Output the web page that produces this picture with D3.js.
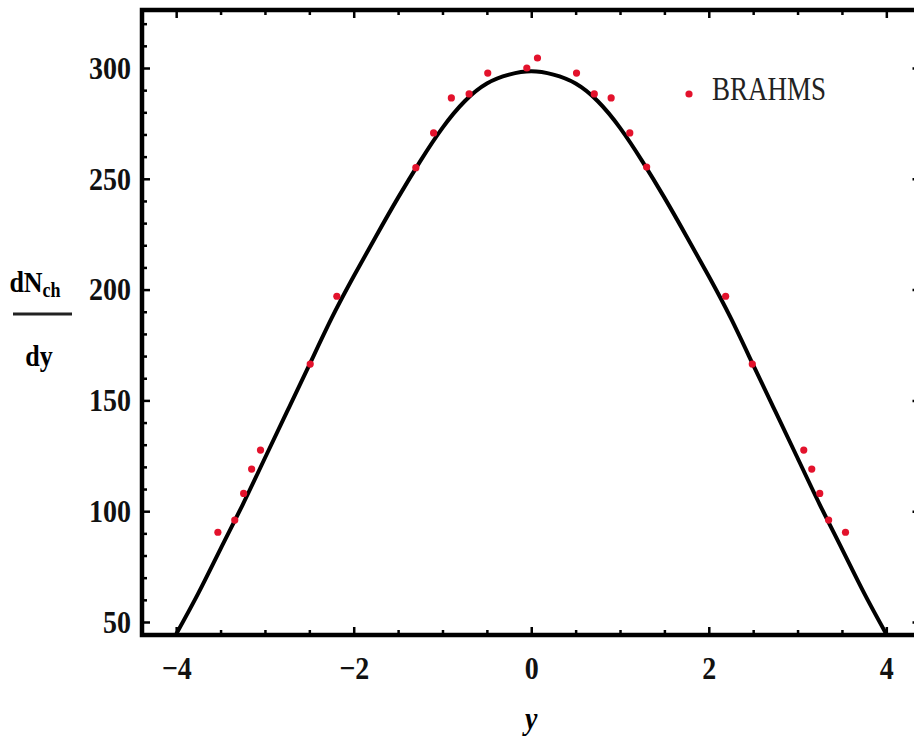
<!DOCTYPE html>
<html lang="en">
<head>
    <meta charset="UTF-8">
    <title>dNch/dy vs y - BRAHMS</title>
    <script src="https://d3js.org/d3.v7.min.js"></script>
    <style>
        body { margin: 0; background: #fff; }
        svg { display: block; font-family: "Liberation Serif", "Times New Roman", serif; }
        .tick text { font-family: "Liberation Serif", "Times New Roman", serif; font-weight: bold; font-size: 28px; fill: #111; }
    </style>
</head>
<body>
<svg width="914" height="743"></svg>
<script>
    // model curve (y, dNch/dy)
    const curveY = [-4.0, -3.75, -3.5, -3.25, -3.0, -2.75, -2.5, -2.25, -2.0, -1.75, -1.5, -1.25, -1.0, -0.75, -0.5, -0.25, 0,
                    0.25, 0.5, 0.75, 1.0, 1.25, 1.5, 1.75, 2.0, 2.25, 2.5, 2.75, 3.0, 3.25, 3.5, 3.75, 4.0];
    const curveN = [44.5, 63, 83, 103, 124, 145, 166, 187, 206, 224, 241.5, 258, 273, 285, 293, 297, 298.5,
                    297, 293, 285, 273, 258, 241.5, 224, 206, 187, 166, 145, 124, 103, 83, 63, 44.5];

    // BRAHMS points
    const brahmsY = [-3.53, -3.34, -3.24, -3.15, -3.05, -2.49, -2.19, -1.30, -1.10, -0.90, -0.70, -0.49, -0.05, 0.07,
                     0.51, 0.71, 0.90, 1.11, 1.30, 2.19, 2.49, 3.07, 3.16, 3.25, 3.35, 3.54];
    const brahmsN = [90.5, 96, 108, 119, 127.6, 166.4, 197, 255, 270.7, 286.5, 288.3, 297.7, 300, 304.5,
                     297.7, 288.3, 286.5, 270.7, 255.3, 197, 166.4, 127.6, 119, 108, 96, 90.5];

    const xTicks = [-4, -2, 0, 2, 4];
    const xMinor = d3.range(-4, 4.01, 0.5).filter(v => v % 2 !== 0);
    const yTicks = [50, 100, 150, 200, 250, 300];
    const yMinor = d3.range(50, 321, 10).filter(v => v % 50 !== 0);

    const svg = d3.select("svg");
    const pLeft = 142, pRight = 920.5, pTop = 10, pBottom = 635;
    const serif = "'Liberation Serif', 'Times New Roman', serif";

    const x = d3.scaleLinear().domain([-4.385, 4.385]).range([pLeft, pRight]);
    const y = d3.scaleLinear().domain([44.13, 326.17]).range([pBottom, pTop]);

    svg.append("clipPath").attr("id", "plot")
        .append("rect").attr("x", pLeft).attr("y", pTop)
        .attr("width", pRight - pLeft).attr("height", pBottom - pTop);

    // curve
    const curve = curveY.map((v, i) => [v, curveN[i]]);
    svg.append("path")
        .datum(curve)
        .attr("clip-path", "url(#plot)")
        .attr("fill", "none")
        .attr("stroke", "#000")
        .attr("stroke-width", 4)
        .attr("d", d3.line().x(d => x(d[0])).y(d => y(d[1])).curve(d3.curveNatural));

    // data points
    svg.selectAll(".pt")
        .data(brahmsY.map((v, i) => [v, brahmsN[i]]))
        .enter().append("circle")
        .attr("class", "pt")
        .attr("cx", d => x(d[0]))
        .attr("cy", d => y(d[1]))
        .attr("r", 3.6)
        .attr("fill", "#e3122c");

    // axes: major + minor ticks pointing inward
    function styleAxis(g) {
        g.attr("font-family", serif).attr("font-size", 28).attr("font-weight", "bold");
        g.select(".domain").remove();
        g.selectAll("line").attr("stroke", "#000").attr("stroke-width", 2.5);
    }

    svg.append("g").attr("transform", `translate(0,${pBottom})`)
        .call(d3.axisBottom(x).tickValues(xTicks).tickSize(-8).tickPadding(22)
            .tickFormat(d => d < 0 ? "\u2212" + Math.abs(d) : d))
        .call(styleAxis)
        .selectAll("text").attr("dy", "0.32em").attr("y", 29).attr("transform", "scale(1,1.15)");
    svg.append("g").attr("transform", `translate(0,${pBottom})`)
        .call(d3.axisBottom(x).tickValues(xMinor).tickSize(-5).tickFormat(""))
        .call(styleAxis);

    svg.append("g").attr("transform", `translate(${pLeft},0)`)
        .call(d3.axisLeft(y).tickValues(yTicks).tickSize(-8).tickPadding(11))
        .call(styleAxis)
        .selectAll("text").attr("transform", "scale(1,1.15)");
    svg.append("g").attr("transform", `translate(${pLeft},0)`)
        .call(d3.axisLeft(y).tickValues(yMinor).tickSize(-5).tickFormat(""))
        .call(styleAxis);

    // mirrored ticks on top and right
    svg.append("g").attr("transform", `translate(0,${pTop})`)
        .call(d3.axisTop(x).tickValues(xTicks).tickSize(-8).tickFormat(""))
        .call(styleAxis);
    svg.append("g").attr("transform", `translate(0,${pTop})`)
        .call(d3.axisTop(x).tickValues(xMinor).tickSize(-5).tickFormat(""))
        .call(styleAxis);
    svg.append("g").attr("transform", `translate(${pRight},0)`)
        .call(d3.axisRight(y).tickValues(yTicks).tickSize(-8).tickFormat(""))
        .call(styleAxis);
    svg.append("g").attr("transform", `translate(${pRight},0)`)
        .call(d3.axisRight(y).tickValues(yMinor).tickSize(-5).tickFormat(""))
        .call(styleAxis);

    // frame
    svg.append("rect")
        .attr("x", pLeft).attr("y", pTop)
        .attr("width", pRight - pLeft).attr("height", pBottom - pTop)
        .attr("fill", "none").attr("stroke", "#000").attr("stroke-width", 4.5);

    // axis titles
    svg.append("text")
        .attr("transform", `translate(${x(0)},718) scale(1,1.15)`)
        .attr("text-anchor", "middle").attr("dy", "0.35em")
        .attr("font-size", 28).attr("font-weight", "bold").attr("font-style", "italic")
        .text("y");

    const yl = svg.append("g").attr("transform", "translate(42,0)");
    const num = yl.append("text")
        .attr("transform", "translate(0,292) scale(1,1.15)")
        .attr("text-anchor", "middle").attr("font-weight", "bold").attr("font-size", 26);
    num.append("tspan").attr("dx", -7).text("dN");
    num.append("tspan").attr("font-size", 18).attr("dy", 4).text("ch");
    yl.append("line")
        .attr("x1", -29).attr("x2", 30).attr("y1", 314).attr("y2", 314)
        .attr("stroke", "#222").attr("stroke-width", 3);
    yl.append("text")
        .attr("transform", "translate(-3,366) scale(1,1.15)")
        .attr("text-anchor", "middle").attr("font-weight", "bold").attr("font-size", 26)
        .text("dy");

    // legend
    svg.append("circle").attr("cx", 689).attr("cy", 94).attr("r", 3.6).attr("fill", "#e3122c");
    svg.append("text")
        .attr("transform", "translate(712,100) scale(1,1.22)")
        .attr("font-size", 27).attr("fill", "#222")
        .text("BRAHMS");
</script>
</body>
</html>
